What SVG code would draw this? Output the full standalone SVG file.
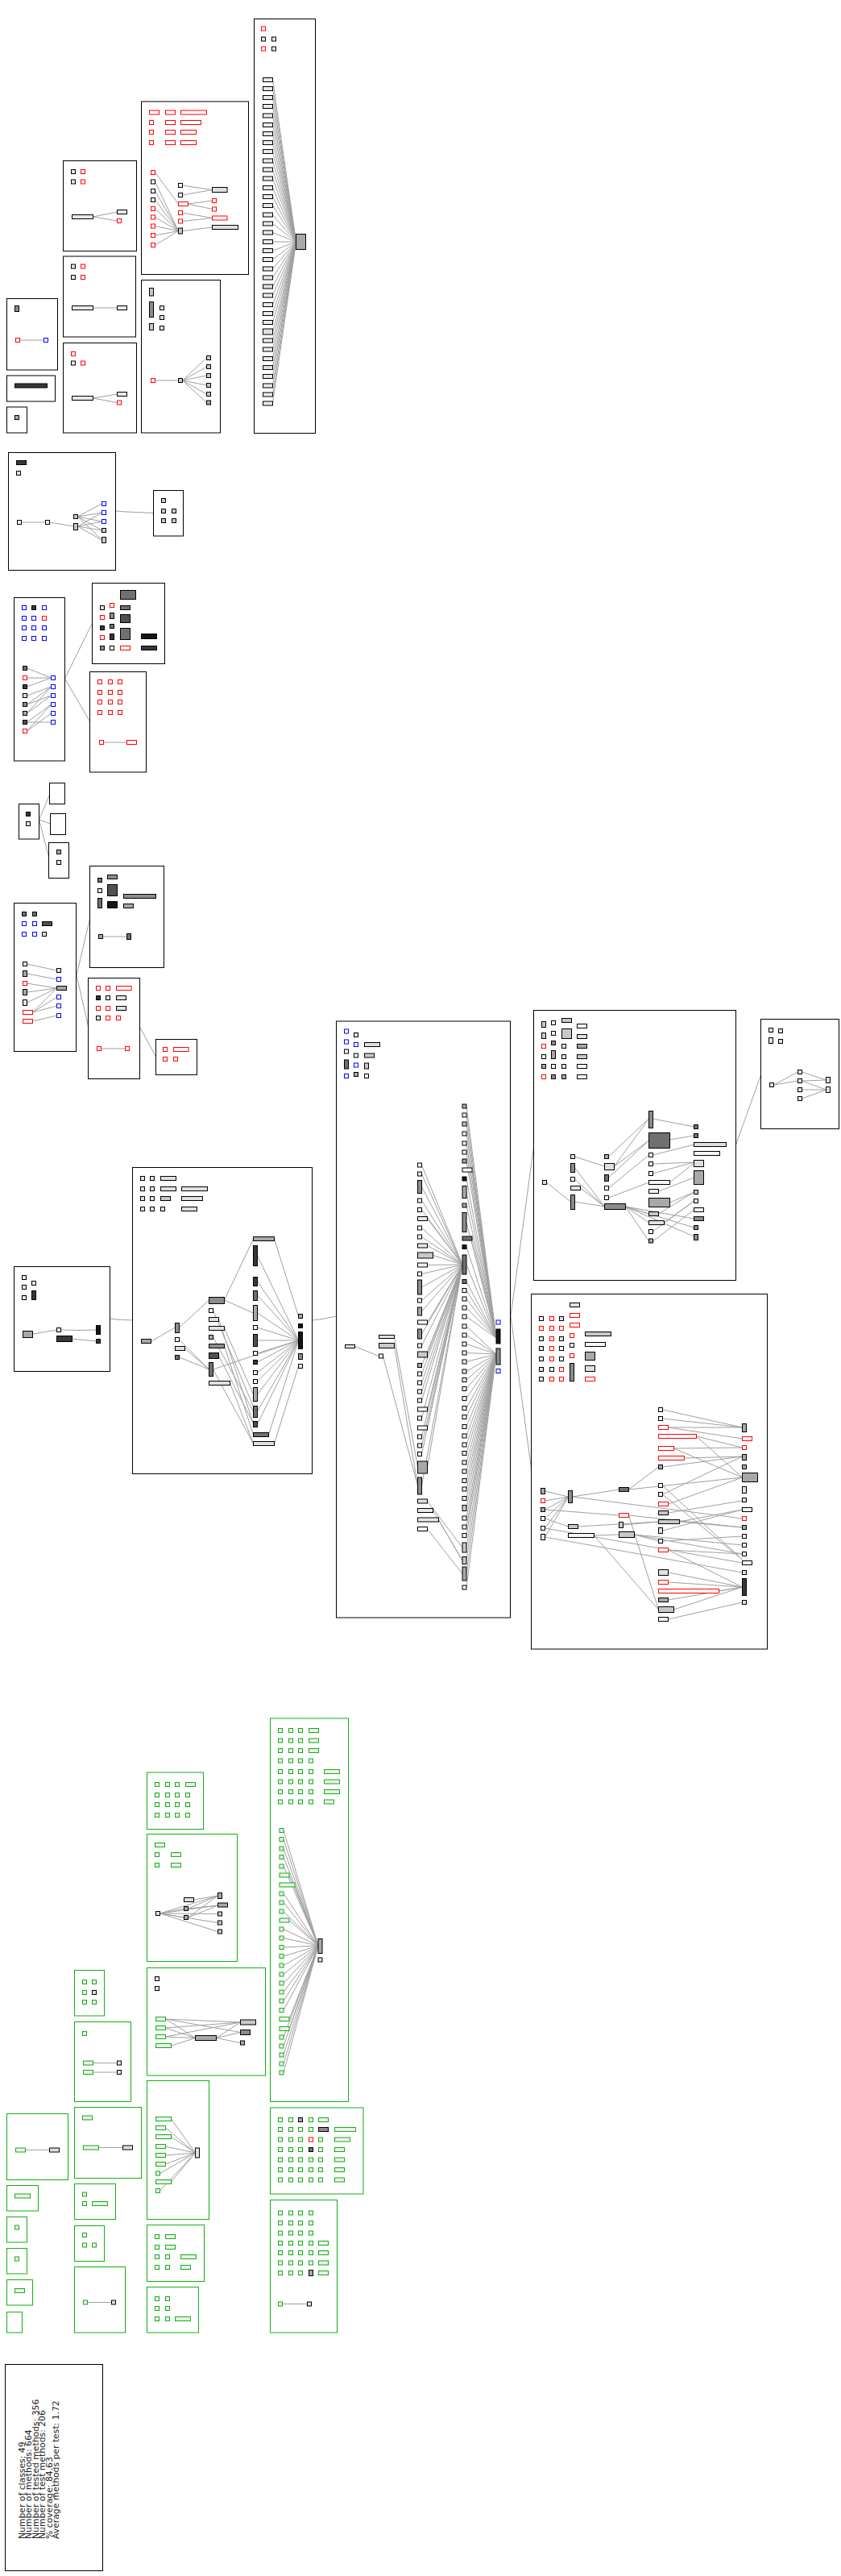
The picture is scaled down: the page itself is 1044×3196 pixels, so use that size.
<svg xmlns="http://www.w3.org/2000/svg" width="1044" height="3196" viewBox="0 0 1044 3196">
<style>
.bx{fill:none;stroke:#000;stroke-width:1}
.gx{fill:none;stroke:#10b010;stroke-width:1}
.k{stroke:#000;stroke-width:1;fill:#e8e8e8}
.w{fill:#f6f6f6}.l{fill:#e0e0e0}.c{fill:#c8c8c8}.a{fill:#a8a8a8}.m{fill:#8c8c8c}.d{fill:#707070}.e{fill:#505050}.f{fill:#383838}.x{fill:#151515}
.r{fill:#fff;stroke:#f00;stroke-width:1}
.u{fill:#fff;stroke:#00f;stroke-width:1}
.g{fill:#eee;stroke:#10b010;stroke-width:1}
#connectors path{fill:none;stroke:#a0a0a0;stroke-width:1}
text{font-family:"DejaVu Sans",Verdana,sans-serif;font-size:10.8px;fill:#222}
</style>
<rect width="1044" height="3196" fill="#fff"/>
<g id="connectors">
<path d="M338.5 99 L367.5 300 M338.5 110 L367.5 300 M338.5 121 L367.5 300 M338.5 132 L367.5 300 M338.5 143.5 L367.5 300 M338.5 155 L367.5 300 M338.5 166 L367.5 300 M338.5 177 L367.5 300 M338.5 188 L367.5 300 M338.5 199.5 L367.5 300 M338.5 210.5 L367.5 300 M338.5 221.5 L367.5 300 M338.5 233 L367.5 300 M338.5 244 L367.5 300 M338.5 255 L367.5 300 M338.5 266.5 L367.5 300 M338.5 277.5 L367.5 300 M338.5 288.5 L367.5 300 M338.5 300 L367.5 300 M338.5 311 L367.5 300 M338.5 322 L367.5 300 M338.5 333.5 L367.5 300 M338.5 344.5 L367.5 300 M338.5 355.5 L367.5 300 M338.5 366.5 L367.5 300 M338.5 378 L367.5 300 M338.5 389 L367.5 300 M338.5 400 L367.5 300 M338.5 412 L367.5 300 M338.5 422.5 L367.5 300 M338.5 433.5 L367.5 300 M338.5 445 L367.5 300 M338.5 456 L367.5 300 M338.5 467 L367.5 300 M338.5 478.5 L367.5 300 M338.5 489.5 L367.5 300 M338.5 500.5 L367.5 300"/>
<path d="M192.5 214 L221.5 253 M192.5 225.5 L221.5 286.5 M192.5 237 L221.5 286.5 M192.5 248 L221.5 286.5 M192.5 259 L221.5 286.5 M192.5 269.5 L221.5 286.5 M192.5 280.5 L221.5 286.5 M192.5 292 L221.5 286.5 M192.5 304 L221.5 286.5 M226.5 230 L263.5 235.5 M226.5 242 L263.5 235.5 M233.5 253 L263.5 249 M233.5 253 L263.5 259.5 M226.5 264 L263.5 270.5 M226.5 274.5 L263.5 270.5 M226.5 286.5 L263.5 282"/>
<path d="M192.5 472 L221.5 472 M226.5 472 L256.5 444 M226.5 472 L256.5 455 M226.5 472 L256.5 466 M226.5 472 L256.5 478 M226.5 472 L256.5 489 M226.5 472 L256.5 499.5"/>
<path d="M115.5 269 L145.5 263 M115.5 269 L145.5 274 M115.5 382 L145.5 382 M115.5 494 L145.5 489 M115.5 494 L145.5 499.5 M24.5 422 L54.5 422"/>
<path d="M26.5 648 L56.5 648 M61.5 648 L91.5 653 M96.5 641 L126.5 625 M96.5 641 L126.5 636 M96.5 641 L126.5 647 M96.5 641 L126.5 658 M96.5 641 L126.5 670 M96.5 653 L126.5 636 M96.5 653 L126.5 647 M96.5 653 L126.5 658 M96.5 653 L126.5 670"/>
<path d="M143.5 634 L157 635 L190.5 636.5"/>
<path d="M33.5 829 L63.5 841 M33.5 841 L63.5 841 M33.5 852 L63.5 841 M33.5 863 L63.5 852 M33.5 874 L63.5 852 M33.5 874 L63.5 863 M33.5 885 L63.5 852 M33.5 885 L63.5 863 M33.5 896 L63.5 874 M33.5 896 L63.5 896 M33.5 907 L63.5 885 M33.5 907 L63.5 874"/>
<path d="M80.5 842 L114.5 773 M80.5 842 L111.5 895 M128.5 921 L157.5 921"/>
<path d="M48.5 1017 L61.5 986 M48.5 1017 L62.5 1022 M48.5 1017 L60.5 1063"/>
<path d="M33.5 1196 L70.5 1204 M33.5 1208 L70.5 1215 M33.5 1220 L70.5 1226 M33.5 1231 L70.5 1226 M33.5 1244 L70.5 1226 M40.5 1256 L70.5 1226 M40.5 1256 L70.5 1237 M40.5 1256 L70.5 1248 M40.5 1267 L70.5 1260"/>
<path d="M95 1210 L111.5 1140 M95 1210 L109.5 1273 M174 1275 L193.5 1311 M127.5 1162 L157.5 1162 M125.5 1301 L155.5 1301"/>
<path d="M41 1655 L70.5 1650 M75.5 1650 L98 1650.5 L119.5 1650 M89.5 1661 L119.5 1664"/>
<path d="M136.5 1636 L144 1637 L164.5 1638 M387.5 1638 L400 1636.5 L417.5 1633"/>
<path d="M188 1664 L217.5 1647 M222.5 1647 L259.5 1613 M222.5 1662 L259.5 1699 M229.5 1673 L259.5 1699 M222.5 1684 L259.5 1699 M278.5 1613 L314.5 1537 M278.5 1613 L314.5 1629 M264.5 1626 L314.5 1745 M271.5 1637 L314.5 1766 M278.5 1648 L314.5 1730 M264.5 1659 L314.5 1751 M278.5 1670 L314.5 1780 M271.5 1682 L314.5 1766 M264.5 1699 L370.5 1663 M264.5 1699 L314.5 1791 M285.5 1716 L314.5 1791 M340.5 1537 L370.5 1633 M319.5 1558 L370.5 1663 M319.5 1590 L370.5 1663 M319.5 1607 L370.5 1663 M319.5 1629 L370.5 1663 M319.5 1647 L370.5 1663 M319.5 1663 L370.5 1663 M319.5 1679 L370.5 1663 M319.5 1690 L370.5 1663 M319.5 1703 L370.5 1663 M319.5 1714 L370.5 1663 M319.5 1730 L370.5 1663 M319.5 1751 L370.5 1663 M319.5 1767 L370.5 1663 M333.5 1780 L370.5 1663 M340.5 1791 L370.5 1695"/>
<path d="M440.5 1670.5 L470.5 1682.5 M489.5 1658.5 L518.5 1820 M489.5 1669.5 L518.5 1843 M475.5 1682.5 L518.5 1843"/>
<path d="M523.5 1445.5 L574 1569 M523.5 1456.5 L574 1569 M523.5 1472.5 L574 1569 M523.5 1489.5 L574 1569 M523.5 1501 L574 1569 M530.5 1512 L574 1569 M523.5 1523.5 L574 1569 M523.5 1534.5 L574 1569 M530.5 1545.5 L574 1569 M537.5 1557.5 L574 1569 M530.5 1569.5 L574 1569 M523.5 1580.5 L574 1569 M523.5 1597 L574 1569 M523.5 1613.5 L574 1569 M523.5 1627 L574 1569 M530.5 1640.5 L574 1569 M523.5 1655 L574 1569 M523.5 1669.5 L574 1569 M530.5 1680.5 L574 1569 M523.5 1694 L574 1569 M523.5 1704.5 L574 1569 M523.5 1715.5 L574 1569 M523.5 1726.5 L574 1569 M523.5 1737.5 L574 1569 M530.5 1748.5 L574 1569 M523.5 1759.5 L574 1569 M530.5 1771.5 L574 1569 M523.5 1782.5 L574 1569 M523.5 1793.5 L574 1569 M523.5 1804 L574 1569 M530.5 1820.5 L574 1569 M523.5 1843.5 L574 1569 M530.5 1862.5 L574 1920 M537.5 1874 L574 1936 M544.5 1885.5 L574 1936 M530.5 1897 L574 1952.5"/>
<path d="M579 1372.5 L616 1660 M579 1383.5 L616 1660 M579 1394.5 L616 1660 M579 1406.5 L616 1660 M579 1418.5 L616 1660 M579 1429.5 L616 1660 M579 1440.5 L616 1660 M586 1451.5 L616 1660 M579 1462.5 L616 1660 M579 1479 L616 1660 M579 1495.5 L616 1660 M579 1516.5 L616 1660 M586 1536.5 L616 1660 M579 1547 L616 1660 M579 1569 L616 1660 M579 1590 L616 1660 M579 1601 L616 1660 M579 1611.5 L616 1660 M579 1622.5 L616 1660 M579 1633.5 L616 1660 M579 1645.5 L616 1680 M579 1656.5 L616 1680 M579 1667.5 L616 1680 M579 1678.5 L616 1680 M579 1689.5 L616 1680 M579 1701.5 L616 1680 M579 1712 L616 1680 M579 1723 L616 1680 M579 1735 L616 1680 M579 1747 L616 1680 M579 1758 L616 1680 M579 1770 L616 1680 M579 1781.5 L616 1680 M579 1792.5 L616 1680 M579 1803 L616 1680 M579 1814.5 L616 1680 M579 1825.5 L616 1680 M579 1837 L616 1680 M579 1847.5 L616 1680 M579 1859 L616 1680 M579 1871 L616 1680 M579 1883.5 L616 1680 M579 1894.5 L616 1680 M579 1905 L616 1680 M579 1920 L616 1680 M579 1936 L616 1680 M579 1952.5 L616 1680 M579 1969.5 L616 1680"/>
<path d="M634 1633 L662.5 1423 M634 1633 L659.5 1822 M913.5 1420 L944.5 1334"/>
<path d="M678.5 1467 L708.5 1491 M713.5 1435 L750.5 1447 M713.5 1449 L750.5 1497 M713.5 1463 L750.5 1497 M720.5 1474 L750.5 1497 M713.5 1491 L750.5 1497 M755.5 1435 L805.5 1388 M762.5 1447 L805.5 1388 M762.5 1447 L805.5 1415 M755.5 1461 L805.5 1415 M755.5 1474 L805.5 1433 M755.5 1486 L805.5 1467 M776.5 1497 L805.5 1506 M776.5 1497 L805.5 1517 M776.5 1497 L805.5 1540 M776.5 1497 L861.5 1512 M776.5 1497 L861.5 1523 M776.5 1497 L861.5 1534 M810.5 1388 L861.5 1398 M831.5 1414 L861.5 1409 M810.5 1433 L861.5 1420 M810.5 1444 L861.5 1442 M810.5 1456 L861.5 1442 M831.5 1467 L861.5 1443 M817.5 1478 L861.5 1461 M831.5 1492 L861.5 1479 M817.5 1506 L861.5 1479 M824.5 1517 L861.5 1490 M810.5 1528 L861.5 1490 M810.5 1540 L861.5 1501"/>
<path d="M960.5 1346 L990.5 1330 M960.5 1346 L990.5 1341 M995.5 1330 L1025.5 1340 M995.5 1341 L1025.5 1340 M995.5 1341 L1025.5 1352 M995.5 1352 L1025.5 1352 M995.5 1363 L1025.5 1352"/>
<path d="M676.5 1850 L705.5 1857 M676.5 1862 L705.5 1857 M676.5 1873 L705.5 1857 M676.5 1884 L705.5 1857 M676.5 1896 L705.5 1857 M676.5 1907 L705.5 1857 M676.5 1873 L768.5 1880 M676.5 1884 L705.5 1894 M676.5 1896 L921.5 1939 M676.5 1907 L921.5 1951 M710.5 1857 L768.5 1848 M710.5 1857 L921.5 1884 M780.5 1848 L817.5 1820 M780.5 1848 L921.5 1833 M717.5 1894 L817.5 1888 M737.5 1905 L768.5 1904 M737.5 1905 L817.5 1997 M780.5 1880 L921.5 1895 M780.5 1880 L817.5 1997 M773.5 1892 L817.5 1888 M787.5 1904 L817.5 1912 M787.5 1904 L921.5 1917 M787.5 1904 L921.5 1928"/>
<path d="M822.5 1749 L921.5 1771 M822.5 1760 L921.5 1771 M829.5 1771 L921.5 1771 M829.5 1771 L921.5 1785 M864.5 1782 L921.5 1796 M864.5 1782 L921.5 1833 M836.5 1797 L921.5 1796 M836.5 1797 L921.5 1833 M850.5 1809 L921.5 1807 M822.5 1820 L921.5 1807 M822.5 1843 L921.5 1935 M822.5 1854 L921.5 1807 M822.5 1854 L921.5 1935 M829.5 1866 L921.5 1833 M829.5 1877 L921.5 1862 M843.5 1888 L921.5 1873 M843.5 1888 L921.5 1895 M822.5 1899 L921.5 1873 M822.5 1912 L921.5 1906 M829.5 1923 L921.5 1928 M829.5 1923 L921.5 1969 M829.5 1951 L921.5 1969 M829.5 1963 L921.5 1969 M892.5 1974 L921.5 1969 M829.5 1985 L921.5 1969 M836.5 1997 L921.5 1969 M829.5 2009 L921.5 1988"/>
<path d="M198.5 2374 L228.5 2368 M198.5 2374 L228.5 2379 M198.5 2374 L270.5 2352 M198.5 2374 L270.5 2364 M198.5 2374 L270.5 2374.5 M198.5 2374 L270.5 2385.5 M198.5 2374 L270.5 2396.5 M240.5 2357 L270.5 2352 M233.5 2368 L270.5 2352 M233.5 2368 L270.5 2364 M233.5 2379 L270.5 2364 M233.5 2379 L270.5 2352"/>
<path d="M205.5 2505 L298.5 2509 M205.5 2505 L298.5 2521.5 M205.5 2505 L242.5 2528.5 M205.5 2516 L298.5 2509 M205.5 2516 L242.5 2528.5 M205.5 2527 L298.5 2509 M205.5 2527 L242.5 2528.5 M212.5 2538 L242.5 2528.5 M268.5 2528.5 L298.5 2509 M268.5 2528.5 L298.5 2521.5 M268.5 2528.5 L298.5 2534.5"/>
<path d="M212.5 2629 L242.5 2671 M205.5 2640 L242.5 2671 M212.5 2651 L242.5 2671 M205.5 2663 L242.5 2671 M205.5 2674 L242.5 2671 M205.5 2685 L242.5 2671 M198.5 2696.5 L242.5 2671 M212.5 2707 L242.5 2671 M198.5 2718 L242.5 2671"/>
<path d="M115.5 2559.5 L145.5 2559.5 M115.5 2571 L145.5 2571 M122.5 2664.5 L152.5 2664.5 M108.5 2856.5 L138.5 2856.5 M31.5 2667.5 L61.5 2667.5 M350.5 2858.5 L381.5 2858.5"/>
<path d="M352 2271 L395 2414 M352 2282 L395 2414 M352 2293.5 L395 2414 M352 2304 L395 2414 M352 2315.5 L395 2414 M359 2326.5 L395 2414 M366 2338.5 L395 2414 M352 2349.5 L395 2414 M352 2360.5 L395 2414 M352 2371.5 L395 2414 M359 2382.5 L395 2414 M352 2393.5 L395 2414 M352 2404.5 L395 2414 M352 2416 L395 2414 M352 2427 L395 2414 M352 2438.5 L395 2414 M352 2449.5 L395 2414 M352 2460.5 L395 2414 M352 2471.5 L395 2414 M352 2482.5 L395 2414 M352 2494 L395 2414 M359 2505 L395 2414 M359 2517 L395 2414 M352 2527.5 L395 2414 M352 2538.5 L395 2414 M352 2549.5 L395 2414 M352 2560.5 L395 2414 M352 2571.5 L395 2414"/>
</g>
<g id="c_tall">
<rect class="bx" x="315.5" y="23.5" width="76" height="514"/>
<rect class="r" x="324.5" y="33" width="5" height="5"/>
<rect class="k" x="324.5" y="46" width="5" height="5"/><rect class="k" x="337.5" y="46" width="5" height="5"/>
<rect class="r" x="324.5" y="58" width="5" height="5"/><rect class="k" x="337.5" y="58" width="5" height="5"/>
<rect class="k" x="326.5" y="96.5" width="12" height="5"/><rect class="k" x="326.5" y="107.5" width="12" height="5"/><rect class="k" x="326.5" y="118.5" width="12" height="5"/><rect class="k" x="326.5" y="129.5" width="12" height="5"/><rect class="k" x="326.5" y="141" width="12" height="5"/><rect class="k" x="326.5" y="152.5" width="12" height="5"/><rect class="k" x="326.5" y="163.5" width="12" height="5"/><rect class="k" x="326.5" y="174.5" width="12" height="5"/><rect class="k" x="326.5" y="185.5" width="12" height="5"/><rect class="k" x="326.5" y="197" width="12" height="5"/><rect class="k" x="326.5" y="208" width="12" height="5"/><rect class="k" x="326.5" y="219" width="12" height="5"/><rect class="k" x="326.5" y="230.5" width="12" height="5"/><rect class="k" x="326.5" y="241.5" width="12" height="5"/><rect class="k" x="326.5" y="252.5" width="12" height="5"/><rect class="k" x="326.5" y="264" width="12" height="5"/><rect class="k" x="326.5" y="275" width="12" height="5"/><rect class="k" x="326.5" y="286" width="12" height="5"/><rect class="k" x="326.5" y="297.5" width="12" height="5"/><rect class="k" x="326.5" y="308.5" width="12" height="5"/><rect class="k" x="326.5" y="319.5" width="12" height="5"/><rect class="k" x="326.5" y="331" width="12" height="5"/><rect class="k" x="326.5" y="342" width="12" height="5"/><rect class="k l" x="326.5" y="353" width="12" height="5"/><rect class="k" x="326.5" y="364" width="12" height="5"/><rect class="k" x="326.5" y="375.5" width="12" height="5"/><rect class="k" x="326.5" y="386.5" width="12" height="5"/><rect class="k" x="326.5" y="397.5" width="12" height="5"/><rect class="k l" x="326.5" y="408" width="12" height="7"/><rect class="k" x="326.5" y="420" width="12" height="5"/><rect class="k" x="326.5" y="431" width="12" height="5"/><rect class="k" x="326.5" y="442.5" width="12" height="5"/><rect class="k l" x="326.5" y="453.5" width="12" height="5"/><rect class="k" x="326.5" y="464.5" width="12" height="5"/><rect class="k" x="326.5" y="476" width="12" height="5"/><rect class="k" x="326.5" y="487" width="12" height="5"/><rect class="k" x="326.5" y="498" width="12" height="5"/>
<rect class="k a" x="367.5" y="290.5" width="12" height="19"/>
</g>
<g id="c_tm">
<rect class="bx" x="175.5" y="126" width="133" height="214.5"/>
<rect class="r" x="185.5" y="137" width="12" height="5"/><rect class="r" x="205.5" y="137" width="12" height="5"/><rect class="r" x="224.5" y="137" width="32" height="5"/>
<rect class="r" x="185.5" y="149.5" width="5" height="5"/><rect class="r" x="205.5" y="149.5" width="12" height="5"/><rect class="r" x="224.5" y="149.5" width="25" height="5"/>
<rect class="r" x="185.5" y="161.5" width="5" height="5"/><rect class="r" x="205.5" y="161.5" width="12" height="5"/><rect class="r" x="224.5" y="161.5" width="19" height="5"/>
<rect class="r" x="185.5" y="174.5" width="5" height="5"/><rect class="r" x="205.5" y="174.5" width="12" height="5"/><rect class="r" x="224.5" y="174.5" width="19" height="5"/>
<rect class="r" x="187.5" y="211.5" width="5" height="5"/><rect class="k w" x="187.5" y="223" width="5" height="5"/><rect class="k w" x="187.5" y="234.5" width="5" height="5"/><rect class="k w" x="187.5" y="245.5" width="5" height="5"/><rect class="r" x="187.5" y="256.5" width="5" height="5"/><rect class="r" x="187.5" y="267" width="5" height="5"/><rect class="r" x="187.5" y="278" width="5" height="5"/><rect class="r" x="187.5" y="289.5" width="5" height="5"/><rect class="r" x="187.5" y="301.5" width="5" height="5"/>
<rect class="k w" x="221.5" y="227.5" width="5" height="5"/><rect class="k w" x="221.5" y="239.5" width="5" height="5"/><rect class="r" x="221.5" y="250.5" width="12" height="5"/><rect class="r" x="221.5" y="261.5" width="5" height="5"/><rect class="r" x="221.5" y="272" width="5" height="5"/><rect class="k c" x="221.5" y="283" width="5" height="7"/>
<rect class="k l" x="263.5" y="232.5" width="18.5" height="6"/><rect class="r" x="263.5" y="246.5" width="5" height="5"/><rect class="r" x="263.5" y="257" width="5" height="5"/><rect class="r" x="263.5" y="268" width="18.5" height="5"/><rect class="k l" x="263.5" y="279.5" width="32" height="5"/>
</g>
<g id="c_tb">
<rect class="bx" x="175.5" y="347.5" width="98" height="189.5"/>
<rect class="k c" x="185.5" y="357.5" width="5" height="9.5"/><rect class="k m" x="185.5" y="374.5" width="5" height="19"/><rect class="k c" x="185.5" y="401.5" width="5" height="8"/>
<rect class="k l" x="198.5" y="379.5" width="5" height="5"/><rect class="k l" x="198.5" y="391.5" width="5" height="5"/><rect class="k l" x="198.5" y="404.5" width="5" height="5"/>
<rect class="r" x="187.5" y="469.5" width="5" height="5"/><rect class="k c" x="221.5" y="469.5" width="5" height="5"/>
<rect class="k c" x="256.5" y="441.5" width="5" height="5"/><rect class="k c" x="256.5" y="452.5" width="5" height="5"/><rect class="k c" x="256.5" y="463.5" width="5" height="5"/><rect class="k c" x="256.5" y="475.5" width="5" height="5"/><rect class="k c" x="256.5" y="486.5" width="5" height="5"/><rect class="k a" x="256.5" y="497" width="5" height="5"/>
</g>
<g id="c_a">
<rect class="bx" x="78.5" y="199.5" width="91" height="112"/>
<rect class="k" x="88.5" y="210.5" width="5" height="5"/><rect class="r" x="100.5" y="210.5" width="5" height="5"/><rect class="k" x="88.5" y="223" width="5" height="5"/><rect class="r" x="100.5" y="223" width="5" height="5"/>
<rect class="k" x="89.5" y="266.5" width="26" height="5"/><rect class="k" x="145.5" y="260.5" width="12" height="5"/><rect class="r" x="145.5" y="271.5" width="5" height="5"/>
</g>
<g id="c_b">
<rect class="bx" x="78.5" y="318" width="90" height="100"/>
<rect class="k" x="88.5" y="328" width="5" height="5"/><rect class="r" x="100.5" y="328" width="5" height="5"/><rect class="k" x="88.5" y="341.5" width="5" height="5"/><rect class="r" x="100.5" y="341.5" width="5" height="5"/>
<rect class="k" x="89.5" y="379.5" width="26" height="5"/><rect class="k" x="145.5" y="379.5" width="12" height="5"/>
</g>
<g id="c_c">
<rect class="bx" x="78.5" y="425.5" width="91" height="111.5"/>
<rect class="r" x="88.5" y="436.5" width="5" height="5"/><rect class="k" x="88.5" y="448" width="5" height="5"/><rect class="r" x="100.5" y="448" width="5" height="5"/>
<rect class="k" x="89.5" y="491.5" width="26" height="5"/><rect class="k" x="145.5" y="486.5" width="12" height="5"/><rect class="r" x="145.5" y="497" width="5" height="5"/>
</g>
<g id="c_d">
<rect class="bx" x="8.5" y="370.5" width="63" height="88.5"/>
<rect class="k m" x="18.5" y="379.5" width="5" height="7"/><rect class="r" x="19.5" y="419.5" width="5" height="5"/><rect class="u" x="54.5" y="419.5" width="5" height="5"/>
</g>
<g id="c_e"><rect class="bx" x="8.5" y="466" width="60" height="32"/><rect class="k f" x="18.5" y="476" width="40" height="5"/></g>
<g id="c_f"><rect class="bx" x="8.5" y="505" width="25" height="32"/><rect class="k a" x="18.5" y="515.5" width="5" height="5"/></g>
<g id="c_g">
<rect class="bx" x="10.5" y="561.5" width="133" height="146"/>
<rect class="k f" x="20.5" y="571.5" width="12" height="5"/><rect class="k l" x="20.5" y="584.5" width="5" height="5"/>
<rect class="k w" x="21.5" y="645.5" width="5" height="5"/><rect class="k w" x="56.5" y="645.5" width="5" height="5"/><rect class="k c" x="91.5" y="638.5" width="5" height="5"/><rect class="k c" x="91.5" y="649.5" width="5" height="8"/>
<rect class="u" x="126.5" y="622.5" width="5" height="5"/><rect class="u" x="126.5" y="633.5" width="5" height="5"/><rect class="u" x="126.5" y="644.5" width="5" height="5"/><rect class="k c" x="126.5" y="655.5" width="5" height="5"/><rect class="k c" x="126.5" y="666.5" width="5" height="7"/>
</g>
<g id="c_h">
<rect class="bx" x="190.5" y="608.5" width="37" height="56.5"/>
<rect class="k c" x="200.5" y="618.5" width="5" height="5"/><rect class="k c" x="200.5" y="631.5" width="5" height="5"/><rect class="k c" x="213.5" y="631.5" width="5" height="5"/><rect class="k c" x="200.5" y="643.5" width="5" height="5"/><rect class="k c" x="213.5" y="643.5" width="5" height="5"/>
</g>
<g id="c_i">
<rect class="bx" x="17.5" y="741.5" width="63" height="202.5"/>
<rect class="u" x="27.5" y="751.5" width="5" height="5"/><rect class="k f" x="39.5" y="751.5" width="5" height="5"/><rect class="u" x="52.5" y="751.5" width="5" height="5"/>
<rect class="u" x="27.5" y="764.5" width="5" height="5"/><rect class="u" x="39.5" y="764.5" width="5" height="5"/><rect class="r" x="52.5" y="764.5" width="5" height="5"/>
<rect class="u" x="27.5" y="776.5" width="5" height="5"/><rect class="u" x="39.5" y="776.5" width="5" height="5"/><rect class="u" x="52.5" y="776.5" width="5" height="5"/>
<rect class="u" x="27.5" y="789.5" width="5" height="5"/><rect class="u" x="39.5" y="789.5" width="5" height="5"/><rect class="u" x="52.5" y="789.5" width="5" height="5"/>
<rect class="k d" x="28.5" y="826.5" width="5" height="5"/><rect class="r" x="28.5" y="838.5" width="5" height="5"/><rect class="k f" x="28.5" y="849.5" width="5" height="5"/><rect class="k l" x="28.5" y="860.5" width="5" height="5"/><rect class="k m" x="28.5" y="871.5" width="5" height="5"/><rect class="k a" x="28.5" y="882.5" width="5" height="5"/><rect class="k e" x="28.5" y="893.5" width="5" height="5"/><rect class="r" x="28.5" y="904.5" width="5" height="5"/>
<rect class="u" x="63.5" y="838.5" width="5" height="5"/><rect class="u" x="63.5" y="849.5" width="5" height="5"/><rect class="u" x="63.5" y="860.5" width="5" height="5"/><rect class="u" x="63.5" y="871.5" width="5" height="5"/><rect class="u" x="63.5" y="882.5" width="5" height="5"/><rect class="u" x="63.5" y="893.5" width="5" height="5"/>
</g>
<g id="c_j">
<rect class="bx" x="114.5" y="723.5" width="90" height="100"/>
<rect class="k d" x="149.5" y="732.5" width="19" height="11"/>
<rect class="k l" x="124.5" y="751.5" width="5" height="5"/><rect class="r" x="136.5" y="748.5" width="5" height="5"/><rect class="k d" x="149.5" y="751.5" width="12" height="5"/>
<rect class="r" x="124.5" y="763.5" width="5" height="5"/><rect class="k m" x="136.5" y="760.5" width="5" height="7"/><rect class="k e" x="149.5" y="762.5" width="12" height="10"/>
<rect class="k f" x="124.5" y="776.5" width="5" height="5"/><rect class="k d" x="136.5" y="774.5" width="5" height="5"/><rect class="k d" x="149.5" y="779.5" width="12" height="14"/>
<rect class="r" x="124.5" y="788.5" width="5" height="5"/><rect class="k f" x="136.5" y="786.5" width="5" height="7"/><rect class="k x" x="175.5" y="786.5" width="19" height="6"/>
<rect class="k m" x="124.5" y="801.5" width="5" height="5"/><rect class="k w" x="136.5" y="801.5" width="5" height="5"/><rect class="r" x="149.5" y="801.5" width="12" height="5"/><rect class="k f" x="175.5" y="801.5" width="19" height="5"/>
</g>
<g id="c_k">
<rect class="bx" x="111.5" y="833.5" width="70" height="124.5"/>
<rect class="r" x="121.5" y="843.5" width="5" height="5"/><rect class="r" x="134.5" y="843.5" width="5" height="5"/><rect class="r" x="146.5" y="843.5" width="5" height="5"/>
<rect class="r" x="121.5" y="856.5" width="5" height="5"/><rect class="r" x="134.5" y="856.5" width="5" height="5"/><rect class="r" x="146.5" y="856.5" width="5" height="5"/>
<rect class="r" x="121.5" y="868.5" width="5" height="5"/><rect class="r" x="134.5" y="868.5" width="5" height="5"/><rect class="r" x="146.5" y="868.5" width="5" height="5"/>
<rect class="r" x="121.5" y="881.5" width="5" height="5"/><rect class="r" x="134.5" y="881.5" width="5" height="5"/><rect class="r" x="146.5" y="881.5" width="5" height="5"/>
<rect class="r" x="123.5" y="918.5" width="5" height="5"/><rect class="r" x="157.5" y="918.5" width="12" height="5"/>
</g>
<g id="c_l"><rect class="bx" x="23.5" y="997.5" width="25" height="43.5"/><rect class="k f" x="32.5" y="1007.5" width="5" height="5"/><rect class="k l" x="32.5" y="1019.5" width="5" height="5"/></g>
<g id="c_m1"><rect class="bx" x="61.5" y="971.5" width="19" height="26"/></g>
<g id="c_m2"><rect class="bx" x="62.5" y="1009.5" width="19" height="26"/></g>
<g id="c_m3"><rect class="bx" x="60.5" y="1045.5" width="25" height="44"/><rect class="k a" x="70.5" y="1054.5" width="5" height="5"/><rect class="k l" x="70.5" y="1067.5" width="5" height="5"/></g>
<g id="c_n">
<rect class="bx" x="17.5" y="1120.5" width="77" height="184"/>
<rect class="k d" x="27.5" y="1131.5" width="5" height="5"/><rect class="k d" x="40.5" y="1131.5" width="5" height="5"/>
<rect class="u" x="27.5" y="1143.5" width="5" height="5"/><rect class="u" x="40.5" y="1143.5" width="5" height="5"/><rect class="k e" x="52.5" y="1143.5" width="12" height="5"/>
<rect class="u" x="27.5" y="1156.5" width="5" height="5"/><rect class="u" x="40.5" y="1156.5" width="5" height="5"/><rect class="k l" x="52.5" y="1156.5" width="5" height="5"/>
<rect class="k l" x="28.5" y="1193.5" width="5" height="5"/><rect class="k a" x="28.5" y="1204.5" width="5" height="7"/><rect class="r" x="28.5" y="1217.5" width="5" height="5"/><rect class="k a" x="28.5" y="1227.5" width="5" height="7"/><rect class="k l" x="28.5" y="1240.5" width="5" height="7"/><rect class="r" x="28.5" y="1253.5" width="12" height="5"/><rect class="r" x="28.5" y="1264.5" width="12" height="5"/>
<rect class="k l" x="70.5" y="1201.5" width="5" height="5"/><rect class="u" x="70.5" y="1212.5" width="5" height="5"/><rect class="k a" x="70.5" y="1223.5" width="12" height="5"/><rect class="u" x="70.5" y="1234.5" width="5" height="5"/><rect class="u" x="70.5" y="1245.5" width="5" height="5"/><rect class="u" x="70.5" y="1257.5" width="5" height="5"/>
</g>
<g id="c_o">
<rect class="bx" x="111.5" y="1074.5" width="92" height="126"/>
<rect class="k d" x="121.5" y="1089.5" width="5" height="5"/><rect class="k m" x="133.5" y="1085.5" width="12" height="5"/>
<rect class="k l" x="121.5" y="1102.5" width="5" height="5"/><rect class="k e" x="133.5" y="1097.5" width="12" height="14"/><rect class="k m" x="153.5" y="1109.5" width="40" height="5"/>
<rect class="k d" x="121.5" y="1114.5" width="5" height="12"/><rect class="k x" x="133.5" y="1118.5" width="12" height="8"/><rect class="k a" x="153.5" y="1121.5" width="12" height="5"/>
<rect class="k a" x="122.5" y="1159.5" width="5" height="5"/><rect class="k d" x="157.5" y="1158.5" width="5" height="7"/>
</g>
<g id="c_p">
<rect class="bx" x="109.5" y="1213.5" width="64" height="125"/>
<rect class="r" x="119.5" y="1223.5" width="5" height="5"/><rect class="r" x="131.5" y="1223.5" width="5" height="5"/><rect class="r" x="144.5" y="1223.5" width="18.5" height="5"/>
<rect class="k f" x="119.5" y="1235.5" width="5" height="5"/><rect class="k l" x="131.5" y="1235.5" width="5" height="5"/><rect class="k l" x="144.5" y="1235.5" width="12" height="5"/>
<rect class="r" x="119.5" y="1248.5" width="5" height="5"/><rect class="r" x="131.5" y="1248.5" width="5" height="5"/><rect class="k l" x="144.5" y="1248.5" width="12" height="5"/>
<rect class="k l" x="119.5" y="1260.5" width="5" height="5"/><rect class="r" x="131.5" y="1260.5" width="5" height="5"/><rect class="r" x="144.5" y="1260.5" width="5" height="5"/>
<rect class="r" x="120.5" y="1298.5" width="5" height="5"/><rect class="r" x="155.5" y="1298.5" width="5" height="5"/>
</g>
<g id="c_q">
<rect class="bx" x="193.5" y="1289.5" width="51" height="44"/>
<rect class="r" x="202.5" y="1299.5" width="5" height="5"/><rect class="r" x="215.5" y="1299.5" width="18.5" height="5"/><rect class="r" x="202.5" y="1311.5" width="5" height="5"/><rect class="r" x="215.5" y="1311.5" width="5" height="5"/>
</g>
<g id="c_r">
<rect class="bx" x="17.5" y="1571.5" width="119" height="130"/>
<rect class="k" x="27.5" y="1582.5" width="5" height="5"/><rect class="k" x="27.5" y="1594.5" width="5" height="5"/><rect class="k" x="39.5" y="1589.5" width="5" height="5"/><rect class="k" x="27.5" y="1607.5" width="5" height="5"/><rect class="k f" x="39.5" y="1601.5" width="5" height="11"/>
<rect class="k a" x="28.5" y="1651.5" width="12" height="8"/><rect class="k" x="70.5" y="1647.5" width="5" height="5"/><rect class="k f" x="70.5" y="1657.5" width="19" height="7"/><rect class="k x" x="119.5" y="1644.5" width="5" height="11"/><rect class="k f" x="119.5" y="1661.5" width="5" height="5"/>
</g>
<g id="c_s">
<rect class="bx" x="164.5" y="1448.5" width="223" height="380"/>
<rect class="k l" x="174.5" y="1459.5" width="5" height="5"/><rect class="k l" x="186.5" y="1459.5" width="5" height="5"/><rect class="k l" x="199.5" y="1459.5" width="19" height="5"/>
<rect class="k l" x="174.5" y="1472.5" width="5" height="5"/><rect class="k l" x="186.5" y="1472.5" width="5" height="5"/><rect class="k l" x="199.5" y="1472.5" width="19" height="5"/><rect class="k l" x="225.5" y="1472.5" width="32" height="5"/>
<rect class="k l" x="174.5" y="1484.5" width="5" height="5"/><rect class="k l" x="186.5" y="1484.5" width="5" height="5"/><rect class="k c" x="199.5" y="1484.5" width="12" height="5"/><rect class="k l" x="225.5" y="1484.5" width="26" height="5"/>
<rect class="k l" x="174.5" y="1497.5" width="5" height="5"/><rect class="k l" x="186.5" y="1497.5" width="5" height="5"/><rect class="k l" x="199.5" y="1497.5" width="5" height="5"/><rect class="k l" x="225.5" y="1497.5" width="19" height="5"/>
<rect class="k a" x="175.5" y="1661.5" width="12" height="5"/>
<rect class="k m" x="217.5" y="1641.5" width="5" height="12"/><rect class="k w" x="217.5" y="1659.5" width="5" height="5"/><rect class="k l" x="217.5" y="1670.5" width="12" height="5"/><rect class="k d" x="217.5" y="1681.5" width="5" height="5"/>
<rect class="k m" x="259.5" y="1609.5" width="19" height="8"/><rect class="k w" x="259.5" y="1623.5" width="5" height="5"/><rect class="k l" x="259.5" y="1634.5" width="12" height="5"/><rect class="k l" x="259.5" y="1645.5" width="19" height="5"/><rect class="k a" x="259.5" y="1656.5" width="5" height="5"/><rect class="k m" x="259.5" y="1667.5" width="19" height="5"/><rect class="k e" x="259.5" y="1678.5" width="12" height="7"/><rect class="k d" x="259.5" y="1690.5" width="5" height="17"/><rect class="k l" x="259.5" y="1713.5" width="26" height="5"/>
<rect class="k a" x="314.5" y="1534.5" width="26" height="5"/><rect class="k f" x="314.5" y="1545.5" width="5" height="25"/><rect class="k f" x="314.5" y="1584.5" width="5" height="11"/><rect class="k d" x="314.5" y="1601.5" width="5" height="12"/><rect class="k a" x="314.5" y="1619.5" width="5" height="19"/><rect class="k w" x="314.5" y="1644.5" width="5" height="5"/><rect class="k e" x="314.5" y="1655.5" width="5" height="15"/><rect class="k w" x="314.5" y="1676.5" width="5" height="5"/><rect class="k f" x="314.5" y="1687.5" width="5" height="5"/><rect class="k" x="314.5" y="1700.5" width="5" height="5"/><rect class="k w" x="314.5" y="1711.5" width="5" height="5"/><rect class="k a" x="314.5" y="1721.5" width="5" height="17"/><rect class="k d" x="314.5" y="1744.5" width="5" height="14"/><rect class="k e" x="314.5" y="1763.5" width="5" height="7"/><rect class="k d" x="314.5" y="1777.5" width="19" height="5"/><rect class="k l" x="314.5" y="1788.5" width="26" height="5"/>
<rect class="k a" x="370.5" y="1630.5" width="5" height="5"/><rect class="k x" x="370.5" y="1642.5" width="5" height="5"/><rect class="k x" x="370.5" y="1652.5" width="5" height="21"/><rect class="k m" x="370.5" y="1679.5" width="5" height="7"/><rect class="k" x="370.5" y="1692.5" width="5" height="5"/>
</g>
<g id="c_t">
<rect class="bx" x="417.5" y="1267" width="216" height="740"/>
<rect class="u" x="427.5" y="1277" width="5" height="5"/><rect class="u" x="427.5" y="1290" width="5" height="5"/><rect class="k w" x="427.5" y="1302" width="5" height="5"/><rect class="k d" x="427.5" y="1315" width="5" height="11"/><rect class="u" x="427.5" y="1332.5" width="5" height="5"/>
<rect class="k l" x="439.5" y="1281.5" width="5" height="5"/><rect class="u" x="439.5" y="1293.5" width="5" height="5"/><rect class="k w" x="439.5" y="1307" width="5" height="5"/><rect class="u" x="439.5" y="1319" width="5" height="5"/><rect class="k a" x="439.5" y="1330.5" width="5" height="5"/>
<rect class="k l" x="452.5" y="1293.5" width="19" height="5"/><rect class="k c" x="452.5" y="1307" width="12" height="5"/><rect class="k c" x="452.5" y="1319" width="5" height="7"/><rect class="k w" x="452.5" y="1332.5" width="5" height="5"/>
<rect class="k l" x="428.5" y="1668.5" width="12" height="4"/>
<rect class="k l" x="470.5" y="1656.5" width="19" height="4"/><rect class="k c" x="470.5" y="1666.5" width="19" height="6"/><rect class="k w" x="470.5" y="1680" width="5" height="5"/>
<rect class="k w" x="518.5" y="1443" width="5" height="5"/><rect class="k" x="518.5" y="1454" width="5" height="5"/><rect class="k m" x="518.5" y="1464.5" width="5" height="16"/><rect class="k w" x="518.5" y="1487" width="5" height="5"/><rect class="k w" x="518.5" y="1498.5" width="5" height="5"/><rect class="k" x="518.5" y="1509.5" width="12" height="5"/><rect class="k w" x="518.5" y="1521" width="5" height="5"/><rect class="k w" x="518.5" y="1532" width="5" height="5"/><rect class="k" x="518.5" y="1543" width="12" height="5"/><rect class="k c" x="518.5" y="1554" width="19" height="7"/><rect class="k w" x="518.5" y="1567" width="12" height="5"/><rect class="k w" x="518.5" y="1578" width="5" height="5"/><rect class="k m" x="518.5" y="1588" width="5" height="18"/><rect class="k w" x="518.5" y="1611" width="5" height="5"/><rect class="k a" x="518.5" y="1622" width="5" height="10"/><rect class="k w" x="518.5" y="1638" width="12" height="5"/><rect class="k m" x="518.5" y="1649" width="5" height="12"/><rect class="k w" x="518.5" y="1667" width="5" height="5"/><rect class="k c" x="518.5" y="1677" width="12" height="7"/><rect class="k a" x="518.5" y="1691.5" width="5" height="5"/><rect class="k w" x="518.5" y="1702" width="5" height="5"/><rect class="k w" x="518.5" y="1713" width="5" height="5"/><rect class="k w" x="518.5" y="1724" width="5" height="5"/><rect class="k w" x="518.5" y="1735" width="5" height="5"/><rect class="k w" x="518.5" y="1746" width="12" height="5"/><rect class="k w" x="518.5" y="1757" width="5" height="5"/><rect class="k w" x="518.5" y="1769" width="12" height="5"/><rect class="k w" x="518.5" y="1780" width="5" height="5"/><rect class="k w" x="518.5" y="1791" width="5" height="5"/><rect class="k w" x="518.5" y="1801.5" width="5" height="5"/><rect class="k a" x="518.5" y="1813" width="12" height="15"/><rect class="k m" x="518.5" y="1833" width="5" height="21"/><rect class="k l" x="518.5" y="1860" width="12" height="5"/><rect class="k" x="518.5" y="1871.5" width="19" height="5"/><rect class="k" x="518.5" y="1883" width="26" height="5"/><rect class="k w" x="518.5" y="1894.5" width="12" height="5"/>
<rect class="k a" x="574" y="1370" width="5" height="5"/><rect class="k w" x="574" y="1381" width="5" height="5"/><rect class="k c" x="574" y="1392" width="5" height="5"/><rect class="k w" x="574" y="1404" width="5" height="5"/><rect class="k w" x="574" y="1416" width="5" height="5"/><rect class="k w" x="574" y="1427" width="5" height="5"/><rect class="k a" x="574" y="1438" width="5" height="5"/><rect class="k w" x="574" y="1449" width="12" height="5"/><rect class="k x" x="574" y="1460" width="5" height="5"/><rect class="k a" x="574" y="1471.5" width="5" height="15"/><rect class="k a" x="574" y="1493" width="5" height="5"/><rect class="k m" x="574" y="1504.5" width="5" height="24"/><rect class="k d" x="574" y="1534" width="12" height="5"/><rect class="k x" x="574" y="1544.5" width="5" height="5"/><rect class="k d" x="574" y="1557" width="5" height="24"/><rect class="k d" x="574" y="1587.5" width="5" height="5"/><rect class="k w" x="574" y="1598.5" width="5" height="5"/><rect class="k w" x="574" y="1609" width="5" height="5"/><rect class="k w" x="574" y="1620" width="5" height="5"/><rect class="k w" x="574" y="1631" width="5" height="5"/><rect class="k w" x="574" y="1643" width="5" height="5"/><rect class="k w" x="574" y="1654" width="5" height="5"/><rect class="k w" x="574" y="1665" width="5" height="5"/><rect class="k w" x="574" y="1676" width="5" height="5"/><rect class="k w" x="574" y="1687" width="5" height="5"/><rect class="k" x="574" y="1699" width="5" height="5"/><rect class="k w" x="574" y="1709.5" width="5" height="5"/><rect class="k w" x="574" y="1720.5" width="5" height="5"/><rect class="k w" x="574" y="1732.5" width="5" height="5"/><rect class="k w" x="574" y="1744.5" width="5" height="5"/><rect class="k w" x="574" y="1755.5" width="5" height="5"/><rect class="k w" x="574" y="1767.5" width="5" height="5"/><rect class="k w" x="574" y="1779" width="5" height="5"/><rect class="k w" x="574" y="1790" width="5" height="5"/><rect class="k w" x="574" y="1800.5" width="5" height="5"/><rect class="k w" x="574" y="1812" width="5" height="5"/><rect class="k w" x="574" y="1823" width="5" height="5"/><rect class="k w" x="574" y="1834.5" width="5" height="5"/><rect class="k w" x="574" y="1845" width="5" height="5"/><rect class="k w" x="574" y="1856.5" width="5" height="5"/><rect class="k c" x="574" y="1867.5" width="5" height="7"/><rect class="k w" x="574" y="1881" width="5" height="5"/><rect class="k w" x="574" y="1892" width="5" height="5"/><rect class="k w" x="574" y="1902.5" width="5" height="5"/><rect class="k c" x="574" y="1914" width="5" height="12"/><rect class="k c" x="574" y="1931.5" width="5" height="9"/><rect class="k a" x="574" y="1944" width="5" height="17"/><rect class="k w" x="574" y="1967" width="5" height="5"/>
<rect class="u" x="616" y="1638" width="5" height="5"/><rect class="k x" x="616" y="1649" width="5" height="18"/><rect class="k m" x="616" y="1673" width="5" height="20"/><rect class="u" x="616" y="1698.5" width="5" height="5"/>
</g>
<g id="c_u">
<rect class="bx" x="662.5" y="1253.5" width="251" height="335"/>
<rect class="k c" x="672.5" y="1267.5" width="5" height="7"/><rect class="k c" x="672.5" y="1281.5" width="5" height="7"/><rect class="r" x="672.5" y="1295.5" width="5" height="5"/><rect class="k w" x="672.5" y="1308.5" width="5" height="5"/><rect class="k a" x="672.5" y="1320.5" width="5" height="5"/><rect class="r" x="672.5" y="1333.5" width="5" height="5"/>
<rect class="k w" x="684.5" y="1266.5" width="5" height="5"/><rect class="k w" x="684.5" y="1279.5" width="5" height="5"/><rect class="k m" x="684.5" y="1291.5" width="5" height="5"/><rect class="k a" x="684.5" y="1303.5" width="5" height="10"/><rect class="k w" x="684.5" y="1320.5" width="5" height="5"/><rect class="k m" x="684.5" y="1333.5" width="5" height="5"/>
<rect class="k c" x="697.5" y="1263.5" width="12" height="5"/><rect class="k c" x="697.5" y="1276.5" width="12" height="12"/><rect class="k l" x="697.5" y="1295.5" width="5" height="5"/><rect class="k l" x="697.5" y="1308.5" width="5" height="5"/><rect class="k l" x="697.5" y="1320.5" width="5" height="5"/><rect class="k a" x="697.5" y="1333.5" width="5" height="5"/>
<rect class="k w" x="716.5" y="1270.5" width="12" height="5"/><rect class="k l" x="716.5" y="1283.5" width="12" height="5"/><rect class="k a" x="716.5" y="1295.5" width="12" height="5"/><rect class="k c" x="716.5" y="1308.5" width="12" height="5"/><rect class="k w" x="716.5" y="1320.5" width="12" height="5"/><rect class="k w" x="716.5" y="1333.5" width="12" height="5"/>
<rect class="k l" x="673.5" y="1464.5" width="5" height="5"/>
<rect class="k l" x="708.5" y="1432.5" width="5" height="5"/><rect class="k m" x="708.5" y="1443.5" width="5" height="11"/><rect class="k w" x="708.5" y="1460.5" width="5" height="5"/><rect class="k l" x="708.5" y="1471.5" width="12" height="5"/><rect class="k m" x="708.5" y="1482.5" width="5" height="18"/>
<rect class="k a" x="750.5" y="1432.5" width="5" height="5"/><rect class="k l" x="750.5" y="1443.5" width="12" height="8"/><rect class="k d" x="750.5" y="1457.5" width="5" height="8"/><rect class="k w" x="750.5" y="1471.5" width="5" height="5"/><rect class="k w" x="750.5" y="1483.5" width="5" height="5"/><rect class="k m" x="750.5" y="1493.5" width="26" height="7"/>
<rect class="k m" x="805.5" y="1378.5" width="5" height="21"/><rect class="k d" x="805.5" y="1405.5" width="26" height="19"/><rect class="k w" x="805.5" y="1430.5" width="5" height="5"/><rect class="k w" x="805.5" y="1441.5" width="5" height="5"/><rect class="k w" x="805.5" y="1453.5" width="5" height="5"/><rect class="k w" x="805.5" y="1464.5" width="26" height="5"/><rect class="k w" x="805.5" y="1475.5" width="12" height="5"/><rect class="k a" x="805.5" y="1486.5" width="26" height="11"/><rect class="k c" x="805.5" y="1503.5" width="12" height="5"/><rect class="k l" x="805.5" y="1514.5" width="19" height="5"/><rect class="k w" x="805.5" y="1525.5" width="5" height="5"/><rect class="k a" x="805.5" y="1537" width="5" height="5"/>
<rect class="k d" x="861.5" y="1395.5" width="5" height="5"/><rect class="k d" x="861.5" y="1406.5" width="5" height="5"/><rect class="k l" x="861.5" y="1417.5" width="40" height="5"/><rect class="k w" x="861.5" y="1428.5" width="32" height="5"/><rect class="k l" x="861.5" y="1439.5" width="12" height="8"/><rect class="k a" x="861.5" y="1452.5" width="12" height="17"/><rect class="k c" x="861.5" y="1476.5" width="5" height="5"/><rect class="k l" x="861.5" y="1487.5" width="5" height="5"/><rect class="k w" x="861.5" y="1498.5" width="12" height="5"/><rect class="k m" x="861.5" y="1509.5" width="12" height="5"/><rect class="k m" x="861.5" y="1520.5" width="5" height="5"/><rect class="k m" x="861.5" y="1531.5" width="5" height="7"/>
</g>
<g id="c_w">
<rect class="bx" x="944.5" y="1264.5" width="97" height="136"/>
<rect class="k l" x="954.5" y="1275.5" width="5" height="5"/><rect class="k l" x="966.5" y="1276.5" width="5" height="5"/><rect class="k l" x="954.5" y="1287.5" width="5" height="7"/><rect class="k l" x="966.5" y="1289.5" width="5" height="5"/>
<rect class="k l" x="955.5" y="1343.5" width="5" height="5"/>
<rect class="k l" x="990.5" y="1327.5" width="5" height="5"/><rect class="k l" x="990.5" y="1338.5" width="5" height="5"/><rect class="k l" x="990.5" y="1349.5" width="5" height="5"/><rect class="k l" x="990.5" y="1360.5" width="5" height="5"/>
<rect class="k l" x="1025.5" y="1336.5" width="5" height="7"/><rect class="k l" x="1025.5" y="1348.5" width="5" height="7"/>
</g>
<g id="c_v">
<rect class="bx" x="659.5" y="1605.5" width="293" height="440.5"/>
<rect class="k w" x="669.5" y="1633.5" width="5" height="5"/><rect class="r" x="669.5" y="1645.5" width="5" height="5"/><rect class="k l" x="669.5" y="1658.5" width="5" height="5"/><rect class="k l" x="669.5" y="1670.5" width="5" height="5"/><rect class="k l" x="669.5" y="1683.5" width="5" height="5"/><rect class="k l" x="669.5" y="1696.5" width="5" height="5"/><rect class="k l" x="669.5" y="1708.5" width="5" height="5"/>
<rect class="r" x="682.5" y="1633.5" width="5" height="5"/><rect class="r" x="682.5" y="1645.5" width="5" height="5"/><rect class="r" x="682.5" y="1658.5" width="5" height="5"/><rect class="r" x="682.5" y="1670.5" width="5" height="5"/><rect class="r" x="682.5" y="1683.5" width="5" height="5"/><rect class="k w" x="682.5" y="1696.5" width="5" height="5"/><rect class="r" x="682.5" y="1708.5" width="5" height="5"/>
<rect class="k l" x="694.5" y="1633.5" width="5" height="5"/><rect class="r" x="694.5" y="1645.5" width="5" height="5"/><rect class="k l" x="694.5" y="1658.5" width="5" height="5"/><rect class="k w" x="694.5" y="1670.5" width="5" height="5"/><rect class="k w" x="694.5" y="1683.5" width="5" height="5"/><rect class="r" x="694.5" y="1696.5" width="5" height="5"/><rect class="r" x="694.5" y="1708.5" width="5" height="5"/>
<rect class="k l" x="707.5" y="1616.5" width="12" height="5"/><rect class="r" x="707.5" y="1629.5" width="12" height="5"/><rect class="r" x="707.5" y="1641.5" width="12" height="5"/><rect class="r" x="707.5" y="1654.5" width="5" height="5"/><rect class="k w" x="707.5" y="1666.5" width="5" height="5"/><rect class="r" x="707.5" y="1679.5" width="5" height="5"/><rect class="k m" x="707.5" y="1691.5" width="5" height="22"/>
<rect class="k c" x="726.5" y="1652.5" width="32" height="5"/><rect class="k w" x="726.5" y="1665.5" width="25" height="5"/><rect class="k a" x="726.5" y="1677.5" width="12" height="10"/><rect class="k l" x="726.5" y="1694.5" width="12" height="7"/><rect class="r" x="726.5" y="1708.5" width="12" height="5"/>
<rect class="k a" x="671.5" y="1846.5" width="5" height="7"/><rect class="r" x="671.5" y="1859.5" width="5" height="5"/><rect class="k a" x="671.5" y="1870.5" width="5" height="5"/><rect class="k w" x="671.5" y="1881.5" width="5" height="5"/><rect class="k w" x="671.5" y="1893.5" width="5" height="5"/><rect class="k l" x="671.5" y="1903.5" width="5" height="7"/>
<rect class="k m" x="705.5" y="1849.5" width="5" height="15"/><rect class="k c" x="705.5" y="1891.5" width="12" height="5"/><rect class="k w" x="705.5" y="1902.5" width="32" height="5"/>
<rect class="k d" x="768.5" y="1845.5" width="12" height="5"/><rect class="r" x="768.5" y="1877.5" width="12" height="5"/><rect class="k c" x="768.5" y="1888.5" width="5" height="7"/><rect class="k c" x="768.5" y="1900.5" width="19" height="7"/>
<rect class="k w" x="817.5" y="1746.5" width="5" height="5"/><rect class="k w" x="817.5" y="1757.5" width="5" height="5"/><rect class="r" x="817.5" y="1768.5" width="12" height="5"/><rect class="r" x="817.5" y="1779.5" width="47" height="5"/><rect class="r" x="817.5" y="1794.5" width="19" height="5"/><rect class="r" x="817.5" y="1806.5" width="32" height="5"/><rect class="k a" x="817.5" y="1817.5" width="5" height="5"/><rect class="k w" x="817.5" y="1840.5" width="5" height="5"/><rect class="k w" x="817.5" y="1851.5" width="5" height="5"/><rect class="r" x="817.5" y="1863.5" width="12" height="5"/><rect class="k c" x="817.5" y="1874.5" width="12" height="5"/><rect class="k c" x="817.5" y="1885.5" width="26" height="5"/><rect class="k l" x="817.5" y="1895.5" width="5" height="7"/><rect class="k w" x="817.5" y="1909.5" width="5" height="5"/><rect class="r" x="817.5" y="1920.5" width="12" height="5"/><rect class="k l" x="817.5" y="1947.5" width="12" height="7"/><rect class="r" x="817.5" y="1960.5" width="12" height="5"/><rect class="r" x="817.5" y="1971.5" width="75" height="5"/><rect class="k a" x="817.5" y="1982.5" width="12" height="5"/><rect class="k c" x="817.5" y="1993.5" width="19" height="7"/><rect class="k w" x="817.5" y="2006.5" width="12" height="5"/>
<rect class="k a" x="921.5" y="1766.5" width="5" height="10"/><rect class="r" x="921.5" y="1782.5" width="12" height="5"/><rect class="r" x="921.5" y="1793.5" width="5" height="5"/><rect class="k a" x="921.5" y="1804.5" width="5" height="7"/><rect class="k a" x="921.5" y="1817.5" width="5" height="5"/><rect class="k a" x="921.5" y="1827.5" width="19" height="11"/><rect class="k l" x="921.5" y="1844.5" width="5" height="8"/><rect class="k l" x="921.5" y="1858.5" width="5" height="5"/><rect class="k w" x="921.5" y="1870.5" width="12" height="5"/><rect class="r" x="921.5" y="1881.5" width="5" height="5"/><rect class="k a" x="921.5" y="1892.5" width="5" height="5"/><rect class="k w" x="921.5" y="1903.5" width="5" height="5"/><rect class="k w" x="921.5" y="1914.5" width="5" height="5"/><rect class="k w" x="921.5" y="1925.5" width="5" height="5"/><rect class="k w" x="921.5" y="1936.5" width="12" height="5"/><rect class="k l" x="921.5" y="1948.5" width="5" height="5"/><rect class="k f" x="921.5" y="1958.5" width="5" height="21"/><rect class="k l" x="921.5" y="1985.5" width="5" height="5"/>
</g>
<g id="c_b1">
<rect class="gx" x="335.5" y="2132" width="97" height="475.5"/>
<rect class="g" x="345.5" y="2144.5" width="5" height="5"/><rect class="g" x="358.5" y="2144.5" width="5" height="5"/><rect class="g" x="370.5" y="2144.5" width="5" height="5"/><rect class="g" x="383.5" y="2144.5" width="12" height="5"/>
<rect class="g" x="345.5" y="2157" width="5" height="5"/><rect class="g" x="358.5" y="2157" width="5" height="5"/><rect class="g" x="370.5" y="2157" width="5" height="5"/><rect class="g" x="383.5" y="2157" width="12" height="5"/>
<rect class="g" x="345.5" y="2169.5" width="5" height="5"/><rect class="g" x="358.5" y="2169.5" width="5" height="5"/><rect class="g" x="370.5" y="2169.5" width="5" height="5"/><rect class="g" x="383.5" y="2169.5" width="12" height="5"/>
<rect class="g" x="345.5" y="2182" width="5" height="5"/><rect class="g" x="358.5" y="2182" width="5" height="5"/><rect class="g" x="370.5" y="2182" width="5" height="5"/><rect class="g" x="383.5" y="2182" width="5" height="5"/>
<rect class="g" x="345.5" y="2195.5" width="5" height="5"/><rect class="g" x="358.5" y="2195.5" width="5" height="5"/><rect class="g" x="370.5" y="2195.5" width="5" height="5"/><rect class="g" x="383.5" y="2195.5" width="5" height="5"/><rect class="g" x="402.5" y="2195.5" width="19" height="5"/>
<rect class="g" x="345.5" y="2208" width="5" height="5"/><rect class="g" x="358.5" y="2208" width="5" height="5"/><rect class="g" x="370.5" y="2208" width="5" height="5"/><rect class="g" x="383.5" y="2208" width="5" height="5"/><rect class="g" x="402.5" y="2208" width="19" height="5"/>
<rect class="g" x="345.5" y="2220.5" width="5" height="5"/><rect class="g" x="358.5" y="2220.5" width="5" height="5"/><rect class="g" x="370.5" y="2220.5" width="5" height="5"/><rect class="g" x="383.5" y="2220.5" width="5" height="5"/><rect class="g" x="402.5" y="2220.5" width="19" height="5"/>
<rect class="g" x="345.5" y="2233" width="5" height="5"/><rect class="g" x="358.5" y="2233" width="5" height="5"/><rect class="g" x="370.5" y="2233" width="5" height="5"/><rect class="g" x="383.5" y="2233" width="5" height="5"/><rect class="g" x="402.5" y="2233" width="12" height="5"/>
<rect class="g" x="347" y="2268.5" width="5" height="5"/><rect class="g" x="347" y="2279.5" width="5" height="5"/><rect class="g" x="347" y="2291" width="5" height="5"/><rect class="g" x="347" y="2301.5" width="5" height="5"/><rect class="g" x="347" y="2313" width="5" height="5"/><rect class="g" x="347" y="2324" width="12" height="5"/><rect class="g" x="347" y="2336" width="19" height="5"/><rect class="g" x="347" y="2347" width="5" height="5"/><rect class="g" x="347" y="2358" width="5" height="5"/><rect class="g" x="347" y="2369" width="5" height="5"/><rect class="g" x="347" y="2380" width="12" height="5"/><rect class="g" x="347" y="2391" width="5" height="5"/><rect class="g" x="347" y="2402" width="5" height="5"/><rect class="g" x="347" y="2413.5" width="5" height="5"/><rect class="g" x="347" y="2424.5" width="5" height="5"/><rect class="g" x="347" y="2436" width="5" height="5"/><rect class="g" x="347" y="2447" width="5" height="5"/><rect class="g" x="347" y="2458" width="5" height="5"/><rect class="g" x="347" y="2469" width="5" height="5"/><rect class="g" x="347" y="2480" width="5" height="5"/><rect class="g" x="347" y="2491.5" width="5" height="5"/><rect class="g" x="347" y="2502.5" width="12" height="5"/><rect class="g" x="347" y="2514.5" width="12" height="5"/><rect class="g" x="347" y="2525" width="5" height="5"/><rect class="g" x="347" y="2536" width="5" height="5"/><rect class="g" x="347" y="2547" width="5" height="5"/><rect class="g" x="347" y="2558" width="5" height="5"/><rect class="g" x="347" y="2569" width="5" height="5"/>
<rect class="k a" x="395" y="2405.5" width="5" height="18"/><rect class="k l" x="395" y="2429" width="5" height="5"/>
</g>
<g id="c_b2">
<rect class="gx" x="335.5" y="2615" width="115.5" height="107"/>
<rect class="g" x="345.5" y="2627.5" width="5" height="5"/><rect class="g" x="358.5" y="2627.5" width="5" height="5"/><rect class="k a" x="370.5" y="2627.5" width="5" height="5"/><rect class="g" x="383.5" y="2627.5" width="5" height="5"/><rect class="g" x="395.5" y="2627.5" width="12" height="5"/>
<rect class="g" x="345.5" y="2639.5" width="5" height="5"/><rect class="g" x="358.5" y="2639.5" width="5" height="5"/><rect class="g" x="370.5" y="2639.5" width="5" height="5"/><rect class="g" x="383.5" y="2639.5" width="5" height="5"/><rect class="k m" x="395.5" y="2639.5" width="12" height="5"/><rect class="g" x="415.5" y="2639.5" width="26" height="5"/>
<rect class="g" x="345.5" y="2652" width="5" height="5"/><rect class="g" x="358.5" y="2652" width="5" height="5"/><rect class="g" x="370.5" y="2652" width="5" height="5"/><rect class="r" x="383.5" y="2652" width="5" height="5"/><rect class="g" x="395.5" y="2652" width="5" height="5"/><rect class="g" x="415.5" y="2652" width="19" height="5"/>
<rect class="g" x="345.5" y="2664.5" width="5" height="5"/><rect class="g" x="358.5" y="2664.5" width="5" height="5"/><rect class="g" x="370.5" y="2664.5" width="5" height="5"/><rect class="k d" x="383.5" y="2664.5" width="5" height="5"/><rect class="g" x="395.5" y="2664.5" width="5" height="5"/><rect class="g" x="415.5" y="2664.5" width="12" height="5"/>
<rect class="g" x="345.5" y="2677" width="5" height="5"/><rect class="g" x="358.5" y="2677" width="5" height="5"/><rect class="g" x="370.5" y="2677" width="5" height="5"/><rect class="g" x="383.5" y="2677" width="5" height="5"/><rect class="g" x="395.5" y="2677" width="5" height="5"/><rect class="g" x="415.5" y="2677" width="12" height="5"/>
<rect class="g" x="345.5" y="2689.5" width="5" height="5"/><rect class="g" x="358.5" y="2689.5" width="5" height="5"/><rect class="g" x="370.5" y="2689.5" width="5" height="5"/><rect class="g" x="383.5" y="2689.5" width="5" height="5"/><rect class="g" x="395.5" y="2689.5" width="5" height="5"/><rect class="g" x="415.5" y="2689.5" width="12" height="5"/>
<rect class="g" x="345.5" y="2702" width="5" height="5"/><rect class="g" x="358.5" y="2702" width="5" height="5"/><rect class="g" x="370.5" y="2702" width="5" height="5"/><rect class="g" x="383.5" y="2702" width="5" height="5"/><rect class="g" x="395.5" y="2702" width="5" height="5"/><rect class="g" x="415.5" y="2702" width="12" height="5"/>
</g>
<g id="c_b3">
<rect class="gx" x="335.5" y="2729.5" width="83" height="164.5"/>
<rect class="g" x="345.5" y="2743" width="5" height="5"/><rect class="g" x="358.5" y="2743" width="5" height="5"/><rect class="g" x="370.5" y="2743" width="5" height="5"/><rect class="g" x="383.5" y="2743" width="5" height="5"/>
<rect class="g" x="345.5" y="2755.5" width="5" height="5"/><rect class="g" x="358.5" y="2755.5" width="5" height="5"/><rect class="g" x="370.5" y="2755.5" width="5" height="5"/><rect class="g" x="383.5" y="2755.5" width="5" height="5"/>
<rect class="g" x="345.5" y="2768" width="5" height="5"/><rect class="g" x="358.5" y="2768" width="5" height="5"/><rect class="g" x="370.5" y="2768" width="5" height="5"/><rect class="g" x="383.5" y="2768" width="5" height="5"/>
<rect class="g" x="345.5" y="2780.5" width="5" height="5"/><rect class="g" x="358.5" y="2780.5" width="5" height="5"/><rect class="g" x="370.5" y="2780.5" width="5" height="5"/><rect class="g" x="383.5" y="2780.5" width="5" height="5"/><rect class="g" x="395.5" y="2780.5" width="12" height="5"/>
<rect class="g" x="345.5" y="2792.5" width="5" height="5"/><rect class="g" x="358.5" y="2792.5" width="5" height="5"/><rect class="g" x="370.5" y="2792.5" width="5" height="5"/><rect class="g" x="383.5" y="2792.5" width="5" height="5"/><rect class="g" x="395.5" y="2792.5" width="12" height="5"/>
<rect class="g" x="345.5" y="2805" width="5" height="5"/><rect class="g" x="358.5" y="2805" width="5" height="5"/><rect class="g" x="370.5" y="2805" width="5" height="5"/><rect class="g" x="383.5" y="2805" width="5" height="5"/><rect class="g" x="395.5" y="2805" width="12" height="5"/>
<rect class="g" x="345.5" y="2817.5" width="5" height="5"/><rect class="g" x="358.5" y="2817.5" width="5" height="5"/><rect class="g" x="370.5" y="2817.5" width="5" height="5"/><rect class="k a" x="383.5" y="2816.5" width="5" height="7"/><rect class="g" x="395.5" y="2817.5" width="12" height="5"/>
<rect class="g" x="345.5" y="2856" width="5" height="5"/><rect class="k l" x="381.5" y="2856" width="5" height="5"/>
</g>
<g id="c_g1">
<rect class="gx" x="182.5" y="2199" width="70" height="70.5"/>
<rect class="g" x="192.5" y="2211.5" width="5" height="5"/><rect class="g" x="205.5" y="2211.5" width="5" height="5"/><rect class="g" x="217.5" y="2211.5" width="5" height="5"/><rect class="g" x="230.5" y="2211.5" width="12" height="5"/>
<rect class="g" x="192.5" y="2224.5" width="5" height="5"/><rect class="g" x="205.5" y="2224.5" width="5" height="5"/><rect class="g" x="217.5" y="2224.5" width="5" height="5"/><rect class="g" x="230.5" y="2224.5" width="5" height="5"/>
<rect class="g" x="192.5" y="2236.5" width="5" height="5"/><rect class="g" x="205.5" y="2236.5" width="5" height="5"/><rect class="g" x="217.5" y="2236.5" width="5" height="5"/><rect class="g" x="230.5" y="2236.5" width="5" height="5"/>
<rect class="g" x="192.5" y="2249.5" width="5" height="5"/><rect class="g" x="205.5" y="2249.5" width="5" height="5"/><rect class="g" x="217.5" y="2249.5" width="5" height="5"/><rect class="g" x="230.5" y="2249.5" width="5" height="5"/>
</g>
<g id="c_g2">
<rect class="gx" x="182.5" y="2275.5" width="112" height="158"/>
<rect class="g" x="192.5" y="2286.5" width="12" height="5"/><rect class="g" x="192.5" y="2298.5" width="5" height="5"/><rect class="g" x="212.5" y="2298.5" width="12" height="5"/><rect class="g" x="192.5" y="2311.5" width="5" height="5"/><rect class="g" x="212.5" y="2311.5" width="12" height="5"/>
<rect class="k l" x="193.5" y="2371.5" width="5" height="5"/>
<rect class="k l" x="228.5" y="2354.5" width="12" height="5"/><rect class="k a" x="228.5" y="2365.5" width="5" height="5"/><rect class="k a" x="228.5" y="2376.5" width="5" height="5"/>
<rect class="k a" x="270.5" y="2348.5" width="5" height="7"/><rect class="k a" x="270.5" y="2361" width="12" height="5"/><rect class="k c" x="270.5" y="2372" width="5" height="5"/><rect class="k c" x="270.5" y="2383" width="5" height="5"/><rect class="k c" x="270.5" y="2394" width="5" height="5"/>
</g>
<g id="c_g3">
<rect class="gx" x="182.5" y="2441.5" width="147" height="133.5"/>
<rect class="k l" x="192.5" y="2452.5" width="5" height="5"/><rect class="k l" x="192.5" y="2464.5" width="5" height="5"/>
<rect class="g" x="193.5" y="2502.5" width="12" height="5"/><rect class="g" x="193.5" y="2513.5" width="12" height="5"/><rect class="g" x="193.5" y="2524.5" width="12" height="5"/><rect class="g" x="193.5" y="2535.5" width="19" height="5"/>
<rect class="k a" x="242.5" y="2525.5" width="26" height="6"/>
<rect class="k c" x="298.5" y="2506" width="19" height="6"/><rect class="k m" x="298.5" y="2518.5" width="12" height="6"/><rect class="k a" x="298.5" y="2532" width="5" height="5"/>
</g>
<g id="c_g4">
<rect class="gx" x="182.5" y="2581.5" width="77" height="172"/>
<rect class="g" x="193.5" y="2626.5" width="19" height="5"/><rect class="g" x="193.5" y="2637.5" width="12" height="5"/><rect class="g" x="193.5" y="2648.5" width="19" height="5"/><rect class="g" x="193.5" y="2660.5" width="12" height="5"/><rect class="g" x="193.5" y="2671.5" width="12" height="5"/><rect class="g" x="193.5" y="2682.5" width="12" height="5"/><rect class="g" x="193.5" y="2694" width="5" height="5"/><rect class="g" x="193.5" y="2704.5" width="19" height="5"/><rect class="g" x="193.5" y="2715.5" width="5" height="5"/>
<rect class="k l" x="242.5" y="2665" width="5" height="12"/>
</g>
<g id="c_g5">
<rect class="gx" x="182.5" y="2760.5" width="71" height="70"/>
<rect class="g" x="192.5" y="2772.5" width="5" height="5"/><rect class="g" x="205.5" y="2772.5" width="12" height="5"/>
<rect class="g" x="192.5" y="2785.5" width="5" height="5"/><rect class="g" x="205.5" y="2785.5" width="12" height="5"/>
<rect class="g" x="192.5" y="2797.5" width="5" height="5"/><rect class="g" x="205.5" y="2797.5" width="5" height="5"/><rect class="g" x="224.5" y="2797.5" width="19" height="5"/>
<rect class="g" x="192.5" y="2810.5" width="5" height="5"/><rect class="g" x="205.5" y="2810.5" width="5" height="5"/><rect class="g" x="224.5" y="2810.5" width="12" height="5"/>
</g>
<g id="c_g6">
<rect class="gx" x="182.5" y="2837.5" width="64" height="56.5"/>
<rect class="g" x="192.5" y="2849.5" width="5" height="5"/><rect class="g" x="205.5" y="2849.5" width="5" height="5"/>
<rect class="g" x="192.5" y="2861.5" width="5" height="5"/><rect class="g" x="205.5" y="2861.5" width="5" height="5"/>
<rect class="g" x="192.5" y="2874.5" width="5" height="5"/><rect class="g" x="205.5" y="2874.5" width="5" height="5"/><rect class="g" x="217.5" y="2874.5" width="19" height="5"/>
</g>
<g id="c_h1">
<rect class="gx" x="92.5" y="2444.5" width="37" height="56.5"/>
<rect class="g" x="102.5" y="2456.5" width="5" height="5"/><rect class="g" x="114.5" y="2456.5" width="5" height="5"/><rect class="g" x="102.5" y="2469.5" width="5" height="5"/><rect class="k l" x="114.5" y="2469.5" width="5" height="5"/><rect class="g" x="102.5" y="2481.5" width="5" height="5"/><rect class="g" x="114.5" y="2481.5" width="5" height="5"/>
</g>
<g id="c_h2">
<rect class="gx" x="92.5" y="2508.5" width="70" height="99"/>
<rect class="g" x="102.5" y="2520.5" width="5" height="5"/><rect class="g" x="103.5" y="2557" width="12" height="5"/><rect class="g" x="103.5" y="2568.5" width="12" height="5"/><rect class="k l" x="145.5" y="2557" width="5" height="5"/><rect class="k l" x="145.5" y="2568.5" width="5" height="5"/>
</g>
<g id="c_h3">
<rect class="gx" x="92.5" y="2614.5" width="83" height="88"/>
<rect class="g" x="102.5" y="2625" width="12" height="5"/><rect class="g" x="103.5" y="2662" width="19" height="5"/><rect class="k l" x="152.5" y="2662" width="12" height="5"/>
</g>
<g id="c_h4">
<rect class="gx" x="92.5" y="2709.5" width="51" height="44"/>
<rect class="g" x="102.5" y="2720" width="5" height="5"/><rect class="g" x="102.5" y="2731.5" width="5" height="5"/><rect class="g" x="114.5" y="2731.5" width="19" height="5"/>
</g>
<g id="c_h5">
<rect class="gx" x="92.5" y="2761.5" width="37" height="44"/>
<rect class="g" x="102.5" y="2770.5" width="5" height="5"/><rect class="g" x="102.5" y="2783" width="5" height="5"/><rect class="g" x="114.5" y="2783" width="5" height="5"/>
</g>
<g id="c_h6">
<rect class="gx" x="92.5" y="2812.5" width="63" height="81.5"/>
<rect class="g" x="103.5" y="2854" width="5" height="5"/><rect class="k l" x="138.5" y="2854" width="5" height="5"/>
</g>
<g id="c_l1"><rect class="gx" x="8.5" y="2622.5" width="76" height="82"/><rect class="g" x="19.5" y="2665" width="12" height="5"/><rect class="k l" x="61.5" y="2665" width="12" height="5"/></g>
<g id="c_l2"><rect class="gx" x="8.5" y="2711.5" width="39" height="31.5"/><rect class="g" x="18.5" y="2722" width="19" height="5"/></g>
<g id="c_l3"><rect class="gx" x="8.5" y="2750.5" width="25" height="31.5"/><rect class="g" x="18.5" y="2761" width="5" height="5"/></g>
<g id="c_l4"><rect class="gx" x="8.5" y="2789.5" width="25" height="31.5"/><rect class="g" x="18.5" y="2800" width="5" height="5"/></g>
<g id="c_l5"><rect class="gx" x="8.5" y="2828.5" width="32" height="31.5"/><rect class="g" x="18.5" y="2839.5" width="12" height="5"/></g>
<g id="c_l6"><rect class="gx" x="8.5" y="2868.5" width="19" height="25.5"/></g>
<g id="stats">
<rect class="bx" x="6.5" y="2933.5" width="121" height="256"/>
<text transform="translate(30.5,3150) rotate(-90)">Number of classes: 49</text>
<text transform="translate(39,3150) rotate(-90)">Number of methods: 664</text>
<text transform="translate(47.5,3150) rotate(-90)">Number of tested methods: 356</text>
<text transform="translate(56,3150) rotate(-90)">Number of test methods: 206</text>
<text transform="translate(64.5,3150) rotate(-90)">% coverage: 84.63</text>
<text transform="translate(73,3150) rotate(-90)">Average methods per test: 1.72</text>
</g>
</svg>
